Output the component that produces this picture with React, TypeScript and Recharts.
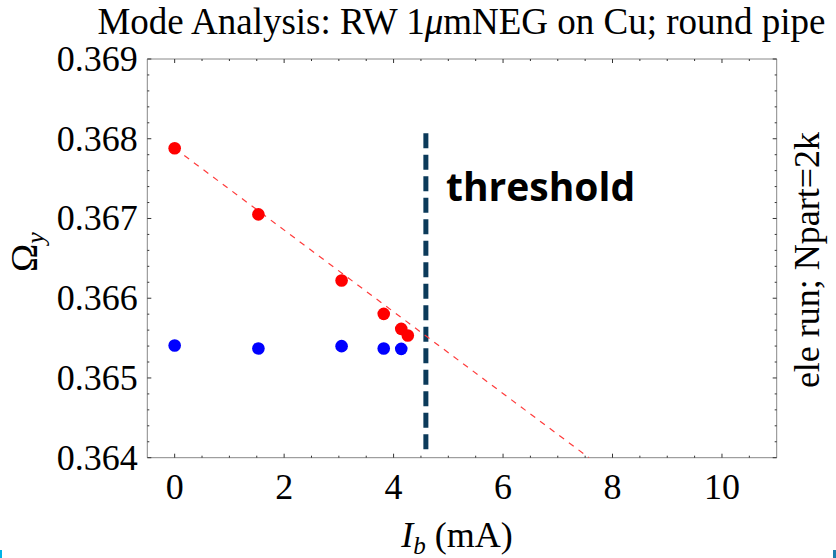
import { ScatterChart, Scatter, XAxis, YAxis, ReferenceLine } from "recharts";

// beam current (mA) and vertical tune
const redCurrent = [0, 1.53, 3.05, 3.82, 4.14, 4.26];
const redTune = [0.36788, 0.367051, 0.366223, 0.365804, 0.365616, 0.365533];
const blueCurrent = [0, 1.53, 3.05, 3.82, 4.14];
const blueTune = [0.365408, 0.36537, 0.365399, 0.36537, 0.365365];

// linear fit through the red points
const fitCurrent = [0, 7.57];
const fitTune = [0.36788, 0.364];

const thresholdCurrent = 4.59;
const thresholdSpan = [0.36807, 0.3641];

const xTicks = [0, 0.5, 1, 1.5, 2, 2.5, 3, 3.5, 4, 4.5, 5, 5.5, 6, 6.5, 7, 7.5, 8, 8.5, 9, 9.5, 10, 10.5];
const xLabels = [0, 2, 4, 6, 8, 10];
const yTicks = [
  0.364, 0.3642, 0.3644, 0.3646, 0.3648, 0.365, 0.3652, 0.3654, 0.3656, 0.3658,
  0.366, 0.3662, 0.3664, 0.3666, 0.3668, 0.367, 0.3672, 0.3674, 0.3676, 0.3678,
  0.368, 0.3682, 0.3684, 0.3686, 0.3688, 0.369,
];
const yLabels = [0.364, 0.365, 0.366, 0.367, 0.368, 0.369];

const redPts = redCurrent.map((x, i) => ({ x, y: redTune[i] }));
const bluePts = blueCurrent.map((x, i) => ({ x, y: blueTune[i] }));
const fitPts = fitCurrent.map((x, i) => ({ x, y: fitTune[i] }));

const serif = "'Liberation Serif', 'Times New Roman', serif";
const tickColor = "#333";

const isYMajor = (v: number) => yLabels.some((l) => Math.abs(l - v) < 1e-7);

function BottomTick({ x, y, payload }: any) {
  const major = xLabels.includes(payload.value);
  return (
    <g>
      <line x1={x} x2={x} y1={y} y2={y - (major ? 4 : 2)} stroke={tickColor} />
      {major && (
        <text x={x} y={y + 41} textAnchor="middle" fontFamily={serif} fontSize={36} fill="#000">
          {payload.value}
        </text>
      )}
    </g>
  );
}

function TopTick({ x, y, payload }: any) {
  const major = xLabels.includes(payload.value);
  return <line x1={x} x2={x} y1={y} y2={y + (major ? 4 : 2)} stroke={tickColor} />;
}

function LeftTick({ x, y, payload }: any) {
  const major = isYMajor(payload.value);
  return (
    <g>
      <line x1={x} x2={x + (major ? 4 : 2)} y1={y} y2={y} stroke={tickColor} />
      {major && (
        <text x={x - 9.5} y={y + 12} textAnchor="end" fontFamily={serif} fontSize={36} fill="#000">
          {payload.value.toFixed(3)}
        </text>
      )}
    </g>
  );
}

function RightTick({ x, y, payload }: any) {
  const major = isYMajor(payload.value);
  return <line x1={x} x2={x - (major ? 4 : 2)} y1={y} y2={y} stroke={tickColor} />;
}

const dot = (color: string) => (p: any) => <circle cx={p.cx} cy={p.cy} r={6.3} fill={color} />;

export default function App() {
  return (
    <div style={{ position: "absolute", left: 0, top: 0, width: 836, height: 558, background: "#fff" }}>
      <ScatterChart width={836} height={558} margin={{ top: 58, right: 58.3, bottom: 60.3, left: 47.3 }}>
        <XAxis
          xAxisId="b"
          type="number"
          dataKey="x"
          domain={[-0.5, 11]}
          ticks={xTicks}
          interval={0}
          allowDataOverflow
          height={40}
          tickSize={0}
          tickMargin={0}
          stroke="#888"
          tick={<BottomTick />}
        />
        <XAxis
          xAxisId="t"
          orientation="top"
          type="number"
          dataKey="x"
          domain={[-0.5, 11]}
          ticks={xTicks}
          interval={0}
          allowDataOverflow
          height={1}
          tickSize={0}
          tickMargin={0}
          stroke="#888"
          tick={<TopTick />}
        />
        <YAxis
          yAxisId="l"
          type="number"
          dataKey="y"
          domain={[0.364, 0.369]}
          ticks={yTicks}
          interval={0}
          allowDataOverflow
          width={100}
          tickSize={0}
          tickMargin={0}
          stroke="#888"
          tick={<LeftTick />}
        />
        <YAxis
          yAxisId="r"
          orientation="right"
          type="number"
          dataKey="y"
          domain={[0.364, 0.369]}
          ticks={yTicks}
          interval={0}
          allowDataOverflow
          width={1}
          tickSize={0}
          tickMargin={0}
          stroke="#888"
          tick={<RightTick />}
        />
        <Scatter
          xAxisId="b"
          yAxisId="l"
          data={fitPts}
          line={{ stroke: "#ff3b3b", strokeWidth: 1.2, strokeDasharray: "6 6" }}
          shape={() => <g />}
          isAnimationActive={false}
        />
        <ReferenceLine
          xAxisId="b"
          yAxisId="l"
          segment={[
            { x: thresholdCurrent, y: thresholdSpan[0] },
            { x: thresholdCurrent, y: thresholdSpan[1] },
          ]}
          stroke="#0b3a5a"
          strokeWidth={5}
          strokeDasharray="15 6.5"
        />
        <Scatter xAxisId="b" yAxisId="l" data={redPts} fill="#ff0000" shape={dot("#ff0000")} isAnimationActive={false} />
        <Scatter xAxisId="b" yAxisId="l" data={bluePts} fill="#0000ff" shape={dot("#0000ff")} isAnimationActive={false} />
      </ScatterChart>

      <svg width={836} height={558} style={{ position: "absolute", left: 0, top: 0, pointerEvents: "none" }}>
        <text x={461.5} y={34} textAnchor="middle" fontFamily={serif} fontSize={37} fill="#000">
          Mode Analysis: RW 1<tspan fontStyle="italic">μ</tspan>mNEG on Cu; round pipe
        </text>
        <text x={457} y={547} textAnchor="middle" fontFamily={serif} fontSize={36} fill="#000">
          <tspan fontStyle="italic">I</tspan>
          <tspan fontStyle="italic" fontSize={25} dy={7}>b</tspan>
          <tspan dy={-7}> (mA)</tspan>
        </text>
        <text
          transform="translate(37,252) rotate(-90)"
          textAnchor="middle"
          fontFamily={serif}
          fontSize={38}
          fill="#000"
        >
          Ω<tspan fontStyle="italic" fontSize={26} dy={7}>y</tspan>
        </text>
        <text
          transform="translate(819,260) rotate(-90)"
          textAnchor="middle"
          fontFamily={serif}
          fontSize={36}
          fill="#000"
        >
          ele run; Npart=2k
        </text>
        <text x={446} y={201} fontFamily="'Open Sans', sans-serif" fontWeight={700} fontSize={39} fill="#000">
          threshold
        </text>
      </svg>
      <div style={{ position: "absolute", left: 0, top: 550, width: 2, height: 8, background: "#00b4e6" }} />
      <div style={{ position: "absolute", left: 833, top: 550, width: 3, height: 8, background: "#1c7fae" }} />
    </div>
  );
}
